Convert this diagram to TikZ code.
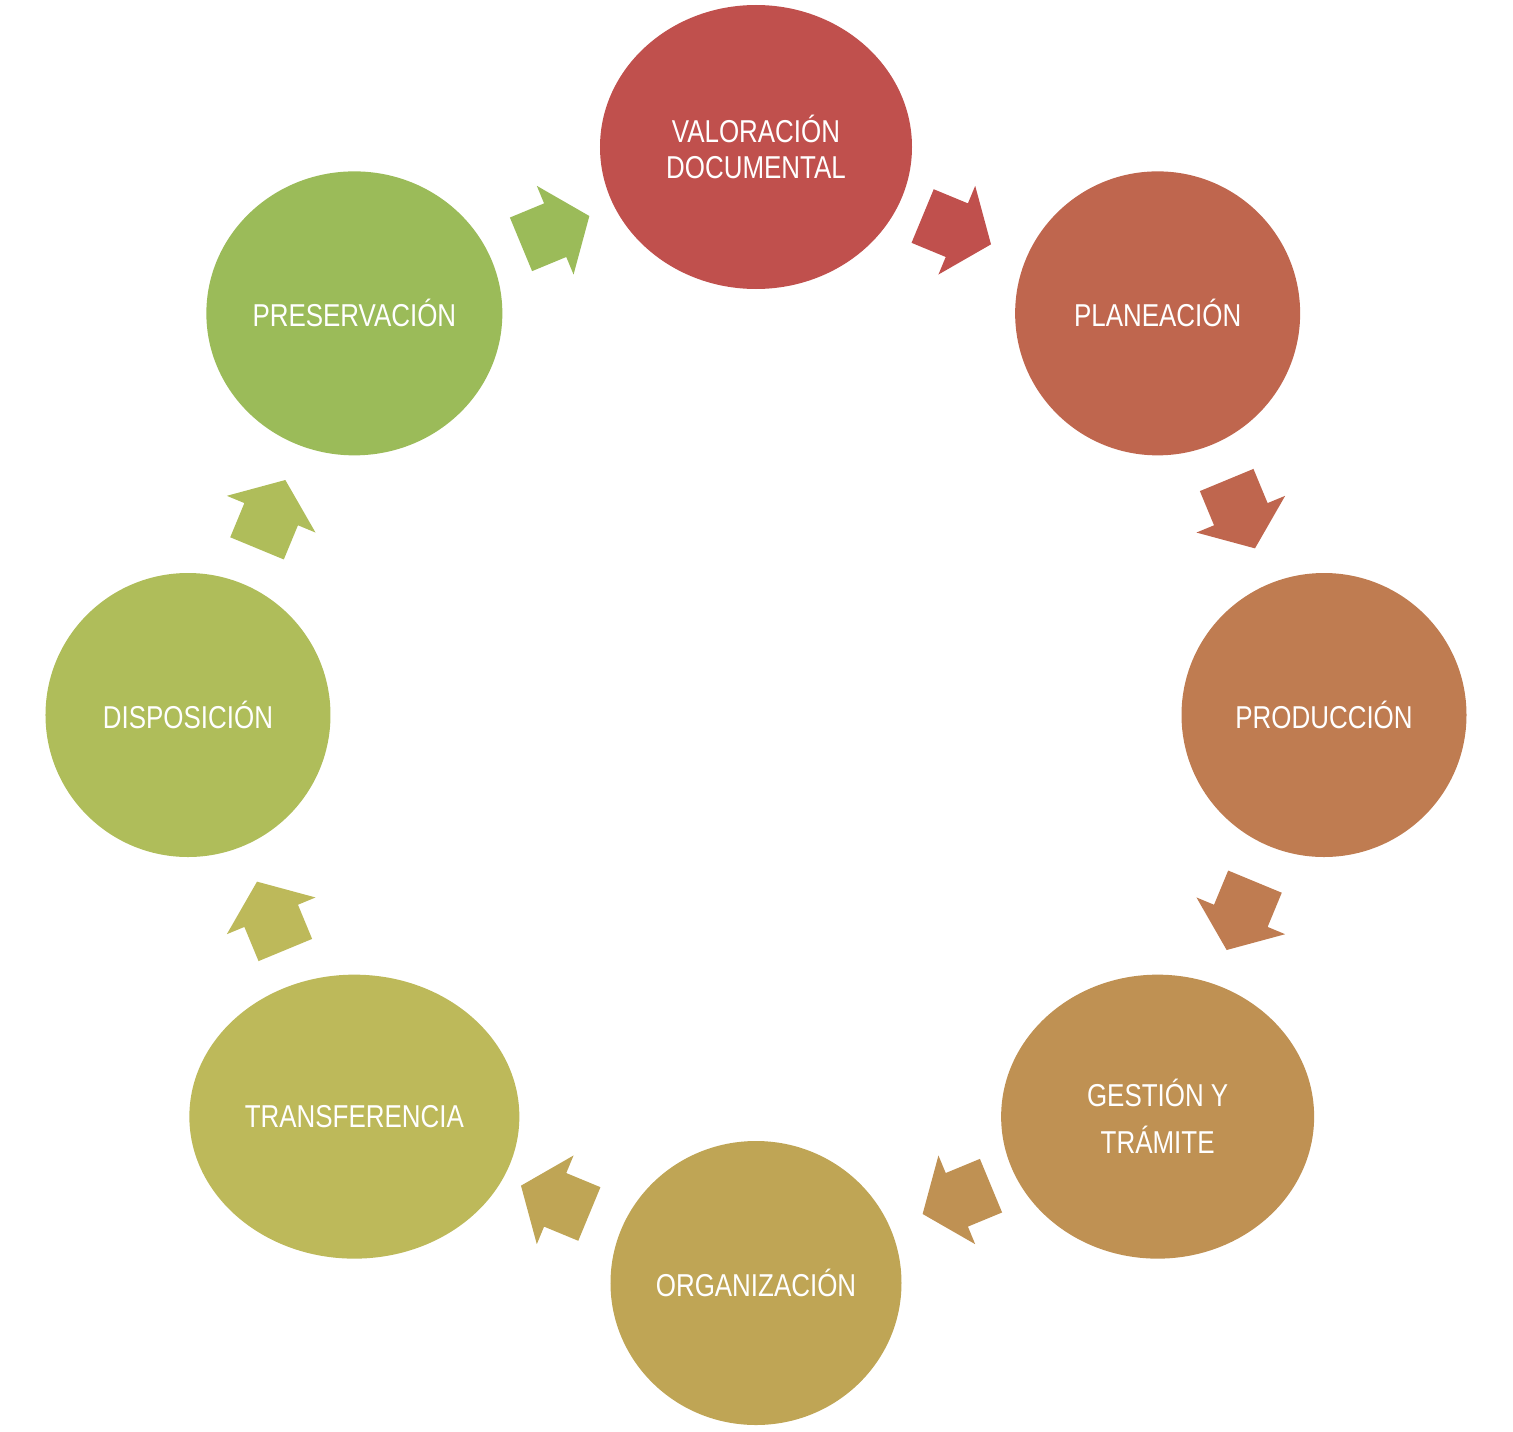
\documentclass[tikz,border=0pt]{standalone}
\usepackage{fontspec}
\setmainfont{Liberation Sans}[FakeStretch=0.82]
\usetikzlibrary{shapes.geometric,calc}
\definecolor{c1}{HTML}{C0504D}
\definecolor{c2}{HTML}{BF664E}
\definecolor{c3}{HTML}{BF7C51}
\definecolor{c4}{HTML}{BF9153}
\definecolor{c5}{HTML}{BFA555}
\definecolor{c6}{HTML}{BDB95A}
\definecolor{c7}{HTML}{AFBD5A}
\definecolor{c8}{HTML}{9BBB59}
\tikzset{pics/flecha/.style={code={\fill[#1](-0.74,-0.58)--(0,-0.58)--(0,-0.96)--(0.74,0)--(0,0.96)--(0,0.58)--(-0.74,0.58)--cycle;}}}
\begin{document}
\begin{tikzpicture}[etapa/.style={ellipse,inner sep=0pt,minimum height=5.68cm,text=white,align=center,font=\fontsize{18}{20}\selectfont}]
\useasboundingbox(-15.12,-14.32)rectangle(15.14,14.30);
%
\node[etapa,fill=c1,minimum width=6.24cm](val)at(90:11.36){VALORACIÓN\\DOCUMENTAL};
\node[etapa,fill=c2,minimum width=5.70cm](pla)at(45:11.36){PLANEACIÓN};
\node[etapa,fill=c3,minimum width=5.70cm](pro)at(0:11.36){PRODUCCIÓN};
\node[etapa,fill=c4,minimum width=6.26cm](ges)at(-45:11.36){GESTIÓN Y\\[6.7pt]TRÁMITE};
\node[etapa,fill=c5,minimum width=5.82cm](org)at(-90:11.36){ORGANIZACIÓN};
\node[etapa,fill=c6,minimum width=6.60cm](tra)at(-135:11.36){TRANSFERENCIA};
\node[etapa,fill=c7,minimum width=5.70cm](dis)at(180:11.36){DISPOSICIÓN};
\node[etapa,fill=c8,minimum width=5.92cm](pre)at(135:11.36){PRESERVACIÓN};
%
\pic[rotate=-22.5]at($(val)!0.5!(pla)$){flecha=c1};
\pic[rotate=-67.5]at($(pla)!0.5!(pro)$){flecha=c2};
\pic[rotate=-112.5]at($(pro)!0.5!(ges)$){flecha=c3};
\pic[rotate=-157.5]at($(ges)!0.5!(org)$){flecha=c4};
\pic[rotate=157.5]at($(org)!0.5!(tra)$){flecha=c5};
\pic[rotate=112.5]at($(tra)!0.5!(dis)$){flecha=c6};
\pic[rotate=67.5]at($(dis)!0.5!(pre)$){flecha=c7};
\pic[rotate=22.5]at($(pre)!0.5!(val)$){flecha=c8};
\end{tikzpicture}
\end{document}
